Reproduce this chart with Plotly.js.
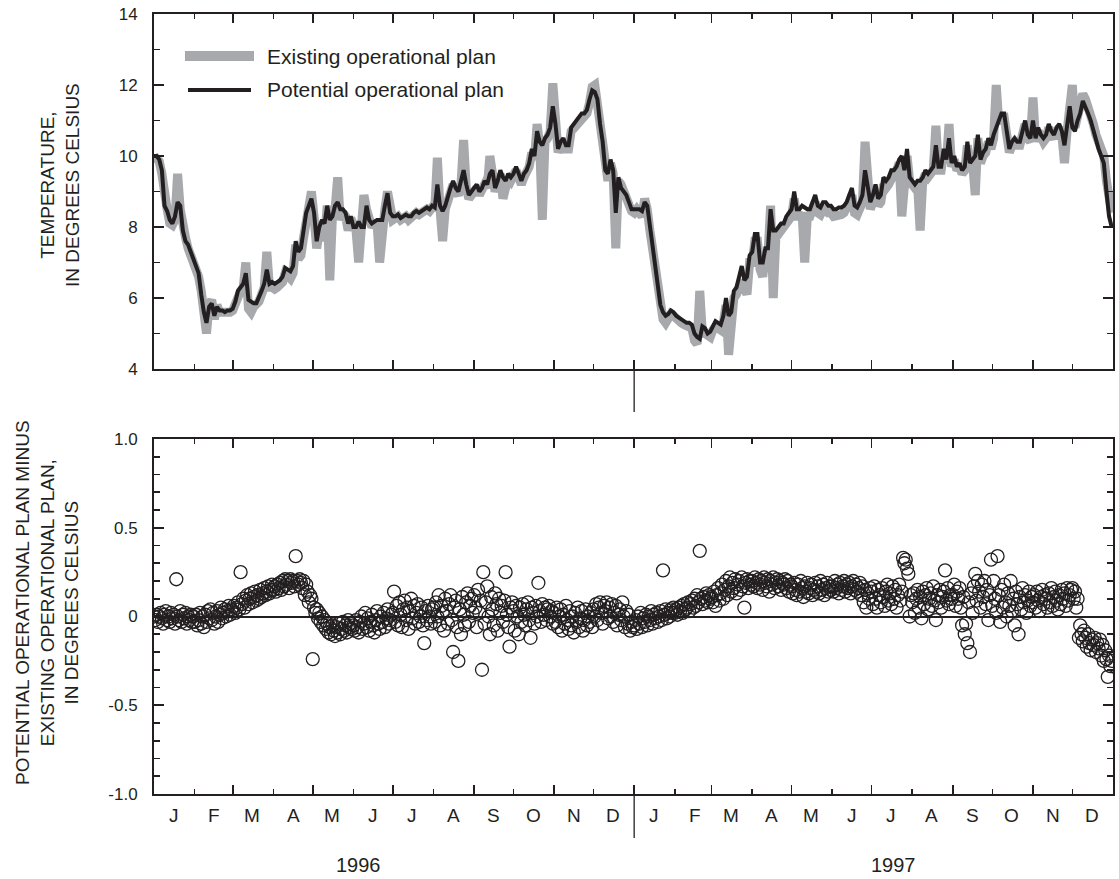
<!DOCTYPE html>
<html>
<head>
<meta charset="utf-8">
<script src="https://cdn.plot.ly/plotly-3.0.1.min.js"></script>
<style>html,body{margin:0;padding:0;background:#fff}#chart{width:1119px;height:879px}</style>
</head>
<body>
<div id="chart"></div>
<script>
// ---------- DATA ----------
const TEMP_STEP_DAYS = 2;   // temperature series: one value every 2 days from 1996-01-01
const DIFF_STEP_DAYS = 1;   // difference series: daily from 1996-01-01

const existingPlan = [
  10.0, 9.95, 9.85, 9.5, 8.8, 8.5, 8.1, 8.05, 8.2, 9.5,
  8.5, 7.8, 7.7, 7.4, 7.2, 7.0, 6.85, 6.6, 6.2, 5.5,
  5.0, 5.8, 5.95, 5.4, 5.8, 5.6, 5.6, 5.55, 5.6, 5.6,
  5.65, 5.85, 6.1, 6.2, 6.3, 7.0, 5.7, 5.6, 5.75, 5.8,
  5.9, 6.1, 6.3, 7.3, 6.3, 6.3, 6.25, 6.3, 6.35, 6.45,
  6.7, 6.6, 6.55, 6.7, 7.5, 7.1, 7.2, 7.7, 8.2, 8.5,
  9.0, 8.3, 7.4, 7.9, 8.1, 7.6, 8.6, 6.5, 8.3, 8.5,
  9.4, 8.2, 8.4, 8.3, 7.9, 8.25, 8.0, 7.9, 7.0, 8.0,
  8.9, 8.5, 8.1, 8.0, 8.1, 8.1, 7.0, 8.1, 8.5, 9.0,
  8.3, 8.2, 8.25, 8.3, 8.2, 8.25, 8.3, 8.2, 8.25, 8.35,
  8.4, 8.35, 8.4, 8.45, 8.5, 8.45, 8.55, 8.5, 9.95, 8.5,
  7.6, 8.5, 8.8, 9.0, 9.2, 9.0, 8.9, 9.2, 10.45, 9.1,
  8.8, 8.9, 9.0, 9.1, 8.9, 9.0, 9.2, 9.1, 10.0, 9.5,
  9.0, 9.2, 9.5, 8.8, 9.2, 9.4, 9.3, 9.4, 9.6, 9.4,
  9.2, 9.4, 9.5, 9.7, 10.1, 9.9, 10.9, 10.3, 8.2, 10.4,
  10.5, 10.7, 12.05, 10.8, 10.1, 10.3, 10.4, 10.2, 10.2, 10.7,
  10.8, 10.9, 11.0, 11.1, 11.1, 11.2, 11.5, 11.95, 12.0, 11.5,
  11.0, 10.5, 9.6, 9.3, 9.8, 9.5, 7.4, 9.3, 9.2, 9.0,
  8.8, 8.6, 8.45, 8.4, 8.5, 8.4, 8.3, 8.8, 8.5, 7.9,
  7.3, 6.7, 6.1, 5.6, 5.4, 5.3, 5.45, 5.55, 5.5, 5.4,
  5.35, 5.3, 5.25, 5.2, 5.2, 5.15, 4.8, 4.7, 6.2, 5.0,
  5.0, 4.9, 4.9, 5.1, 5.2, 5.15, 5.1, 5.3, 5.8, 4.4,
  5.4, 6.0, 6.1, 6.4, 6.5, 6.3, 6.1, 7.0, 7.0, 7.6,
  7.6, 6.8, 6.6, 7.2, 7.2, 8.6, 6.0, 7.7, 7.8, 7.9,
  7.9, 8.1, 8.2, 8.3, 8.8, 8.3, 8.3, 8.4, 7.0, 8.3,
  8.3, 8.5, 8.7, 8.4, 8.35, 8.5, 8.5, 8.4, 8.4, 8.3,
  8.3, 8.35, 8.35, 8.4, 8.5, 8.7, 8.9, 8.4, 8.35, 8.5,
  8.7, 10.4, 9.0, 8.5, 8.7, 9.0, 8.6, 8.7, 9.2, 9.1,
  9.2, 9.4, 9.5, 9.6, 9.8, 8.3, 9.5, 10.0, 9.3, 9.2,
  9.1, 9.2, 7.9, 9.3, 9.5, 9.4, 9.5, 9.6, 10.85, 9.6,
  9.6, 10.1, 9.8, 10.9, 9.7, 9.9, 9.6, 9.7, 9.5, 9.6,
  10.3, 9.7, 9.8, 8.9, 10.5, 9.8, 10.0, 10.1, 10.4, 10.2,
  10.5, 12.0, 10.9, 11.1, 11.1, 10.5, 10.1, 10.3, 10.4, 10.3,
  10.3, 10.6, 10.9, 10.5, 10.4, 11.65, 10.4, 10.7, 10.5, 10.4,
  10.5, 10.8, 10.6, 10.5, 10.7, 10.8, 10.6, 9.8, 10.7, 11.3,
  12.0, 10.8, 11.1, 11.35, 11.75, 11.6, 11.4, 11.2, 10.9, 10.6,
  10.4, 10.2, 10.0, 9.3, 8.6, 8.4
];

const potentialPlan = [
  10.0, 10.0, 9.9, 9.6, 8.6, 8.45, 8.2, 8.1, 8.3, 8.7,
  8.6, 7.9, 7.6, 7.5, 7.3, 7.1, 6.9, 6.7, 6.1, 5.6,
  5.3, 5.75, 5.85, 5.5, 5.75, 5.65, 5.65, 5.6, 5.65, 5.65,
  5.7, 5.9, 6.2, 6.3, 6.4, 6.7, 5.95, 5.9, 5.85, 5.85,
  6.0, 6.2, 6.4, 6.8, 6.4, 6.45, 6.4, 6.45, 6.5, 6.6,
  6.85, 6.8, 6.75, 6.9, 7.6, 7.3, 7.4, 7.9, 8.4, 8.6,
  8.8, 8.4, 7.6, 8.0, 8.2, 8.1, 8.6, 8.2, 8.3, 8.6,
  8.7, 8.5, 8.5, 8.4, 8.1, 8.3, 8.0, 8.0, 8.15, 8.0,
  8.0, 8.6, 8.2, 8.1, 8.15, 8.2, 8.2, 8.2, 8.6, 8.95,
  8.4, 8.3, 8.3, 8.35, 8.25, 8.3, 8.35, 8.3, 8.3, 8.4,
  8.45, 8.4, 8.45, 8.5, 8.55, 8.5, 8.6, 8.55, 9.2, 8.6,
  8.45, 8.6, 8.9, 9.1, 9.3, 9.1, 9.0, 9.3, 9.6, 9.2,
  8.9, 9.0, 9.1, 9.2, 9.0, 9.1, 9.3, 9.2, 9.5, 9.6,
  9.1, 9.3, 9.6, 9.4, 9.3, 9.5, 9.4, 9.5, 9.7, 9.5,
  9.3, 9.5, 9.6, 9.8, 10.2, 10.0, 10.7, 10.4, 10.3, 10.5,
  10.6, 10.8, 11.4, 10.9, 10.2, 10.4, 10.5, 10.3, 10.3, 10.8,
  10.9, 11.0, 11.1, 11.2, 11.2, 11.3, 11.6, 11.85, 11.8, 11.6,
  10.9, 10.4, 9.6, 9.5, 9.9, 9.6, 8.4, 9.4, 9.1, 9.0,
  8.9, 8.7, 8.5, 8.5, 8.5, 8.5, 8.45, 8.7, 8.6, 8.0,
  7.4, 6.8, 6.2, 5.8, 5.6, 5.5, 5.55, 5.65, 5.6, 5.5,
  5.45, 5.4, 5.35, 5.3, 5.3, 5.25, 5.0, 4.9, 4.85, 5.2,
  5.15, 5.0, 5.05, 5.2, 5.35, 5.3, 5.25, 5.5, 6.0, 5.5,
  5.6, 6.2, 6.3, 6.6, 6.9, 6.5, 6.6, 7.2, 7.3, 7.8,
  7.8, 7.0, 7.0, 7.4, 7.4, 8.5, 7.9, 7.9, 8.0, 8.1,
  8.1, 8.3, 8.4, 8.5, 9.0, 8.5, 8.5, 8.6, 8.55, 8.5,
  8.5, 8.7, 8.9, 8.6, 8.55, 8.7, 8.7, 8.6, 8.6, 8.5,
  8.5, 8.55, 8.55, 8.6, 8.7, 8.9, 9.1, 8.6, 8.55, 8.7,
  8.9, 9.6, 9.2, 8.7, 8.9, 9.2, 8.8, 8.9, 9.4, 9.3,
  9.4, 9.6, 9.6, 9.7, 9.9, 10.0, 9.6, 10.2, 9.4, 9.3,
  9.2, 9.3, 9.3, 9.4, 9.6, 9.5, 9.6, 9.7, 10.3, 9.7,
  9.7, 10.2, 9.9, 10.5, 9.8, 10.0, 9.7, 9.8, 9.6, 9.7,
  10.4, 9.8, 9.9, 10.0, 10.6, 9.9, 10.1, 10.2, 10.5, 10.3,
  10.6, 10.8, 11.0, 11.2, 11.2, 10.6, 10.2, 10.4, 10.5, 10.4,
  10.4, 10.7, 11.0, 10.6, 10.5, 11.0, 10.5, 10.8, 10.6, 10.5,
  10.6, 10.9, 10.7, 10.6, 10.8, 10.9, 10.7, 10.3, 10.8, 11.4,
  10.8, 10.7, 11.0, 11.2, 11.55, 11.4, 11.2, 11.0, 10.7, 10.4,
  10.2, 10.0, 9.8, 9.0, 8.3, 8.0
];

const planDifference = [
  // 1996 Jan..Dec (daily)
  0.0,-0.02,0.01,-0.03,0.0,0.02,-0.01,-0.04,0.01,0.03,-0.02,0.0,-0.03,0.02,-0.01,0.01,-0.04,0.21,0.0,-0.02,0.03,-0.03,0.01,-0.01,0.02,-0.04,0.0,-0.02,0.01,-0.03,0.0,
  -0.03,0.01,-0.05,-0.02,0.02,-0.04,0.0,-0.06,0.01,-0.03,0.03,-0.01,0.04,-0.02,0.02,-0.04,0.0,0.03,-0.03,0.01,0.05,-0.01,0.02,0.04,0.0,0.03,0.06,0.01,0.04,
  0.03,0.06,0.02,0.05,0.08,0.04,0.25,0.07,0.1,0.05,0.09,0.12,0.07,0.1,0.13,0.08,0.11,0.14,0.09,0.12,0.1,0.15,0.11,0.13,0.16,0.12,0.14,0.17,0.13,0.15,0.18,
  0.15,0.17,0.14,0.18,0.16,0.19,0.15,0.2,0.17,0.21,0.18,0.2,0.16,0.21,0.19,0.2,0.17,0.34,0.2,0.18,0.21,0.19,0.16,0.2,0.12,0.18,0.14,0.08,0.12,0.1,
  -0.24,0.05,0.02,0.04,-0.01,0.02,-0.03,0.0,-0.05,-0.02,-0.07,-0.04,-0.09,-0.06,-0.1,-0.05,-0.08,-0.11,-0.06,-0.09,-0.04,-0.1,-0.07,-0.03,-0.08,-0.05,-0.09,-0.02,-0.06,-0.04,-0.07,
  -0.05,-0.08,-0.02,-0.06,-0.09,-0.03,0.0,-0.07,-0.04,0.02,-0.06,-0.01,-0.08,-0.03,0.01,-0.05,-0.09,-0.02,0.03,-0.04,-0.07,0.0,-0.03,0.02,-0.06,-0.01,0.04,-0.04,-0.02,0.01,
  0.02,0.14,-0.03,0.06,-0.05,0.08,0.01,-0.06,0.04,0.09,-0.02,0.05,-0.07,0.03,0.1,-0.01,0.06,-0.04,0.02,0.07,-0.03,0.0,0.05,-0.05,-0.15,0.03,-0.02,0.06,0.0,-0.04,0.04,
  0.05,-0.03,0.08,0.0,0.12,-0.05,0.06,0.02,-0.08,0.1,0.03,-0.04,0.07,0.12,-0.02,-0.2,0.05,0.09,-0.06,-0.25,0.04,-0.1,0.11,0.01,-0.05,0.08,0.13,-0.03,0.06,0.1,0.02,
  0.12,0.05,-0.06,0.15,0.02,0.09,-0.3,0.25,-0.04,0.08,0.17,0.0,-0.1,0.11,0.04,-0.05,0.13,0.07,-0.08,0.1,0.02,0.06,-0.03,0.09,0.25,0.01,-0.06,-0.17,0.05,0.08,
  0.03,-0.08,0.06,0.0,-0.1,0.05,-0.03,0.07,0.01,-0.05,0.04,0.08,-0.02,-0.12,0.05,0.02,-0.04,0.06,0.0,0.19,0.03,-0.03,0.07,0.01,0.05,-0.02,0.04,0.06,0.0,0.03,-0.04,
  0.02,-0.03,0.05,-0.06,0.0,0.04,-0.08,0.01,-0.04,0.06,-0.02,-0.07,0.03,-0.05,0.0,-0.09,0.02,-0.03,0.05,-0.06,-0.01,0.03,-0.08,-0.02,0.04,-0.05,0.0,-0.03,0.02,-0.06,
  0.04,0.0,0.07,-0.02,0.05,0.08,0.02,-0.04,0.06,0.03,0.08,-0.01,0.05,0.0,0.07,-0.03,0.02,0.06,-0.05,0.01,0.04,-0.02,0.08,0.0,-0.06,0.03,-0.04,0.01,-0.08,-0.03,-0.06,
  // 1997 Jan..Dec (daily)
  -0.05,-0.02,-0.07,0.0,-0.04,0.02,-0.06,-0.01,-0.03,0.01,-0.05,0.0,-0.02,0.03,-0.04,0.01,-0.01,0.02,-0.03,0.0,0.03,-0.02,0.26,0.01,0.04,-0.01,0.02,0.0,0.04,0.02,0.05,
  0.02,0.04,0.01,0.05,0.03,0.06,0.02,0.07,0.04,0.05,0.08,0.03,0.07,0.09,0.05,0.1,0.06,0.12,0.08,0.37,0.1,0.07,0.11,0.09,0.13,0.08,0.12,0.1,
  0.11,0.08,0.14,0.06,0.12,0.16,0.09,0.13,0.18,0.1,0.15,0.2,0.12,0.17,0.22,0.14,0.19,0.16,0.21,0.13,0.18,0.2,0.15,0.22,0.17,0.05,0.19,0.21,0.16,0.2,0.18,
  0.2,0.17,0.22,0.19,0.16,0.21,0.18,0.2,0.15,0.22,0.19,0.17,0.21,0.14,0.2,0.18,0.22,0.16,0.19,0.21,0.17,0.2,0.15,0.19,0.18,0.21,0.16,0.2,0.14,0.18,
  0.17,0.13,0.19,0.15,0.12,0.18,0.14,0.2,0.16,0.11,0.17,0.14,0.19,0.13,0.16,0.18,0.12,0.15,0.19,0.14,0.17,0.13,0.2,0.15,0.18,0.12,0.16,0.19,0.14,0.17,0.15,
  0.17,0.14,0.2,0.16,0.18,0.13,0.19,0.15,0.17,0.2,0.14,0.18,0.16,0.19,0.13,0.17,0.2,0.15,0.18,0.14,0.16,0.19,0.12,0.17,0.08,0.15,0.05,0.13,0.1,0.16,
  0.14,0.07,0.17,0.1,0.05,0.15,0.12,0.08,0.16,0.11,0.06,0.14,0.18,0.09,0.13,0.07,0.17,0.1,0.15,0.05,0.12,0.18,0.09,0.14,0.33,0.3,0.32,0.27,0.24,0.0,0.12,
  0.08,0.13,0.02,0.1,0.15,0.05,0.11,-0.01,0.14,0.07,0.12,0.16,0.04,0.1,0.13,0.06,0.17,0.09,-0.02,0.12,0.08,0.15,0.05,0.11,0.14,0.26,0.09,0.16,0.07,0.12,0.1,
  0.12,0.18,0.06,0.14,0.1,0.16,0.05,-0.05,0.11,-0.1,-0.04,-0.15,0.08,-0.2,0.13,0.02,0.17,0.24,0.09,0.2,0.14,0.05,0.18,0.11,0.2,0.07,0.15,-0.02,0.12,0.32,
  0.06,0.2,0.1,0.02,0.34,0.12,-0.03,0.15,0.05,0.18,0.08,0.0,0.13,0.06,0.2,0.03,0.1,-0.05,0.14,0.07,-0.1,0.11,0.04,0.16,0.08,0.12,0.02,0.09,0.14,0.06,0.11,
  0.08,0.12,0.05,0.14,0.09,0.03,0.11,0.15,0.07,0.12,0.1,0.05,0.13,0.08,0.16,0.06,0.11,0.14,0.09,0.04,0.12,0.07,0.15,0.1,0.13,0.06,0.16,0.09,0.12,0.15,
  0.16,0.1,0.14,0.05,0.1,-0.12,-0.05,-0.1,-0.14,-0.08,-0.12,-0.17,-0.1,-0.15,-0.19,-0.13,-0.16,-0.12,-0.2,-0.15,-0.18,-0.13,-0.22,-0.16,-0.25,-0.19,-0.24,-0.34,-0.22,-0.28,-0.25
];

const monthLabels = ['J','F','M','A','M','J','J','A','S','O','N','D'];
const yearLabels = ['1996','1997'];
const seriesNames = ['Existing operational plan','Potential operational plan'];
const tempTickVals = [4,6,8,10,12,14];
const diffTickVals = [-1,-0.5,0,0.5,1];
const diffTickText = ['-1.0','-0.5','0','0.5','1.0'];

// ---------- HELPERS ----------
function dateAt(i, step){
  const d = new Date(Date.UTC(1996,0,1));
  d.setUTCDate(d.getUTCDate() + i*step);
  return d.toISOString().slice(0,10);
}
const tempDates = existingPlan.map((_,i)=>dateAt(i,TEMP_STEP_DAYS));
const diffDates = planDifference.map((_,i)=>dateAt(i,DIFF_STEP_DAYS));

const INK = '#231f20';
const GRAY = '#a7a9ac';
const FONT = '"Liberation Sans", Arial, Helvetica, sans-serif';

const traces = [
  {x: tempDates, y: existingPlan, name: seriesNames[0], type:'scatter', mode:'lines',
   xaxis:'x', yaxis:'y', line:{color:GRAY, width:9}, showlegend:false, hoverinfo:'skip'},
  {x: tempDates, y: potentialPlan, name: seriesNames[1], type:'scatter', mode:'lines',
   xaxis:'x', yaxis:'y', line:{color:INK, width:4}, showlegend:false, hoverinfo:'skip'},
  {x: diffDates, y: planDifference, type:'scatter', mode:'markers',
   xaxis:'x2', yaxis:'y2', showlegend:false, hoverinfo:'skip',
   marker:{symbol:'circle-open', size:13, color:INK, line:{width:1.3, color:INK}}}
];

function xAxis(anchor){
  return {
    type:'date', range:['1996-01-01','1998-01-01'], domain:[0,1], anchor:anchor,
    showline:true, linecolor:INK, linewidth:2, mirror:'ticks',
    ticks:'inside', tick0:'1996-01-01', dtick:'M2', ticklen:9, tickwidth:1.6, tickcolor:INK,
    showticklabels:false, showgrid:false, zeroline:false, fixedrange:true,
    minor:{ticks:'inside', tick0:'1996-01-01', dtick:'M1', ticklen:5, tickwidth:1.6, tickcolor:INK, showgrid:false}
  };
}

const topLow = (794-369)/780;
const botHigh = (794-439)/780;

const annotations = [];
for (let y=0; y<2; y++){
  monthLabels.forEach((m,k)=>{
    const mm = String(k+1).padStart(2,'0');
    annotations.push({x:`${1996+y}-${mm}-16`, xref:'x2', y:-0.027, yref:'paper',
      text:m, showarrow:false, xanchor:'center', yanchor:'middle',
      font:{family:FONT, size:19, color:INK}});
  });
}
annotations.push({x:(358-154)/959, xref:'paper', y:(794-865)/780, yref:'paper', text:yearLabels[0],
  showarrow:false, xanchor:'center', yanchor:'middle', font:{family:FONT, size:20, color:INK}});
annotations.push({x:(893-154)/959, xref:'paper', y:(794-865)/780, yref:'paper', text:yearLabels[1],
  showarrow:false, xanchor:'center', yanchor:'middle', font:{family:FONT, size:20, color:INK}});
annotations.push({x:(60-154)/959, xref:'paper', y:(794-185)/780, yref:'paper', textangle:-90,
  text:'TEMPERATURE,<br>IN DEGREES CELSIUS', showarrow:false, xanchor:'center', yanchor:'middle',
  font:{family:FONT, size:19, color:INK}});
annotations.push({x:(47-154)/959, xref:'paper', y:(794-603)/780, yref:'paper', textangle:-90,
  text:'POTENTIAL OPERATIONAL PLAN MINUS<br>EXISTING OPERATIONAL PLAN,<br>IN DEGREES CELSIUS',
  showarrow:false, xanchor:'center', yanchor:'middle', font:{family:FONT, size:19, color:INK}});
annotations.push({x:(265-154)/959, xref:'paper', y:(794-56)/780, yref:'paper', text:seriesNames[0],
  showarrow:false, xanchor:'left', yanchor:'middle', font:{family:FONT, size:21, color:INK}});
annotations.push({x:(265-154)/959, xref:'paper', y:(794-90)/780, yref:'paper', text:seriesNames[1],
  showarrow:false, xanchor:'left', yanchor:'middle', font:{family:FONT, size:21, color:INK}});

const shapes = [
  {type:'line', xref:'paper', yref:'paper', x0:(185-154)/959, x1:(254-154)/959,
   y0:(794-56)/780, y1:(794-56)/780, line:{color:GRAY, width:10}},
  {type:'line', xref:'paper', yref:'paper', x0:(188-154)/959, x1:(251-154)/959,
   y0:(794-90)/780, y1:(794-90)/780, line:{color:INK, width:4}},
  {type:'line', xref:'x', yref:'paper', x0:'1997-01-01', x1:'1997-01-01',
   y0:topLow, y1:(794-412)/780, line:{color:INK, width:1.3}},
  {type:'line', xref:'x2', yref:'paper', x0:'1997-01-01', x1:'1997-01-01',
   y0:0, y1:(794-838)/780, line:{color:INK, width:1.3}}
];

const layout = {
  width:1119, height:879,
  margin:{l:154, r:6, t:14, b:85},
  paper_bgcolor:'#fff', plot_bgcolor:'#fff',
  font:{family:FONT, color:INK, size:18},
  showlegend:false,
  xaxis: xAxis('y'),
  xaxis2: xAxis('y2'),
  yaxis:{domain:[topLow,1], anchor:'x', range:[4,14], tickvals:tempTickVals,
    ticks:'inside', ticklen:10, tickwidth:1.6, tickcolor:INK,
    showline:true, linecolor:INK, linewidth:2, mirror:'ticks',
    showgrid:false, zeroline:false, fixedrange:true, ticklabelstandoff:11,
    tickfont:{family:FONT, size:17, color:INK},
    minor:{ticks:'inside', tickmode:'linear', tick0:4, dtick:1, ticklen:6, tickwidth:1.6, tickcolor:INK, showgrid:false}},
  yaxis2:{domain:[0,botHigh], anchor:'x2', range:[-1,1], tickvals:diffTickVals, ticktext:diffTickText,
    ticks:'inside', ticklen:10, tickwidth:1.6, tickcolor:INK,
    showline:true, linecolor:INK, linewidth:2, mirror:'ticks',
    showgrid:false, zeroline:true, zerolinecolor:INK, zerolinewidth:2, fixedrange:true, ticklabelstandoff:11,
    tickfont:{family:FONT, size:17, color:INK},
    minor:{ticks:'inside', tickmode:'linear', tick0:0, dtick:0.1, ticklen:6, tickwidth:1.6, tickcolor:INK, showgrid:false}},
  annotations: annotations,
  shapes: shapes
};

Plotly.newPlot('chart', traces, layout, {staticPlot:true, displayModeBar:false});
</script>
</body>
</html>
